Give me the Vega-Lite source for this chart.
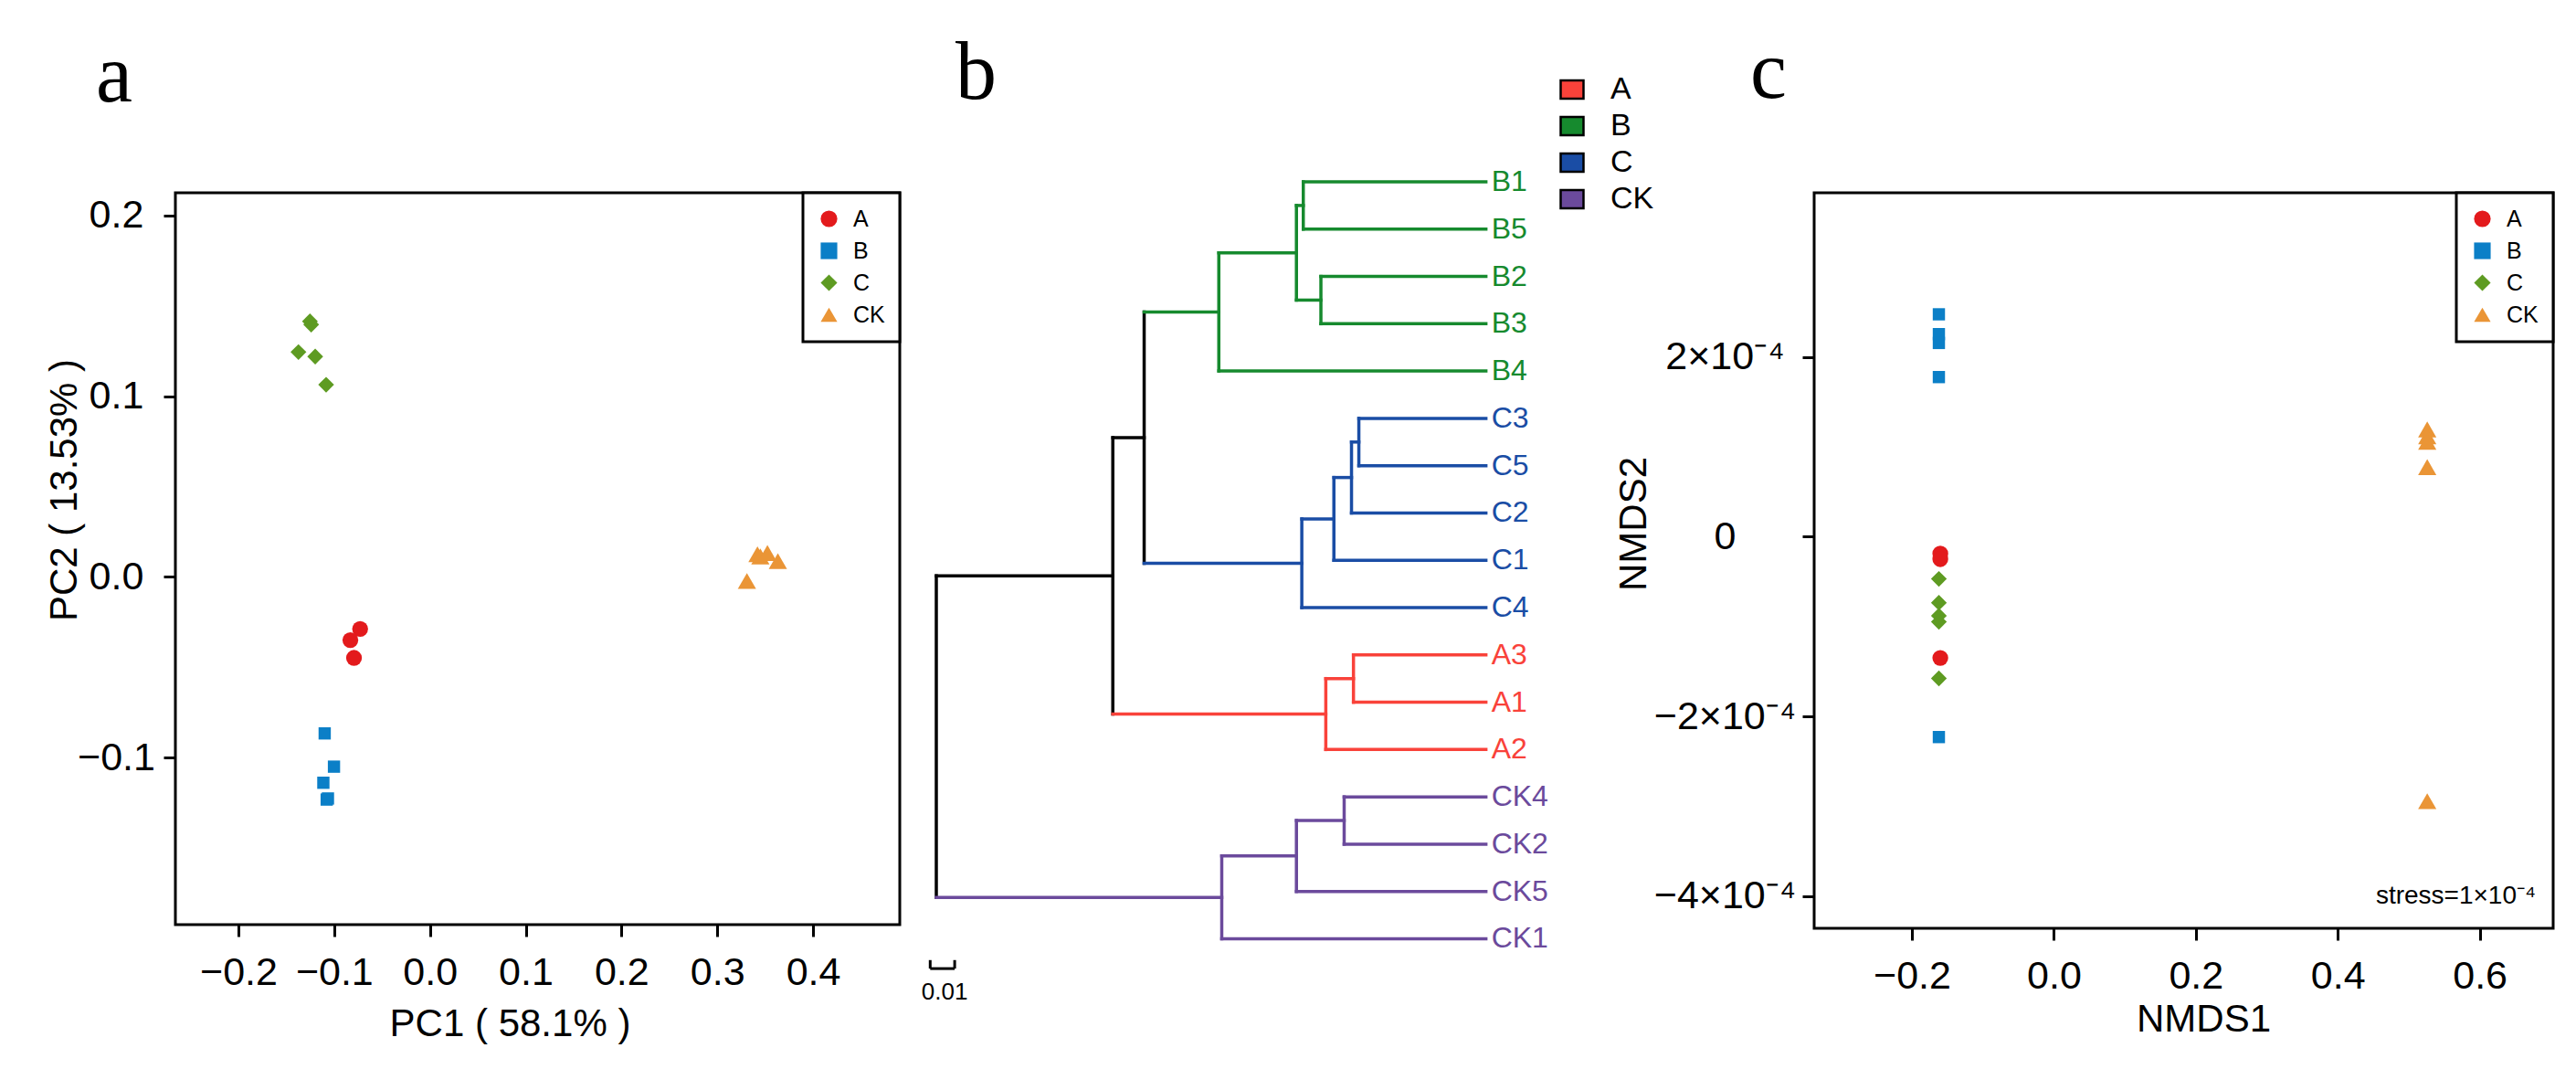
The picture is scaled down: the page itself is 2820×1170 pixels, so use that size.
{
  "$schema": "https://vega.github.io/schema/vega-lite/v6.json",
  "background": "white",
  "autosize": {"type": "none"},
  "padding": {"left": 192, "top": 211, "right": 2628, "bottom": 959},
  "spacing": 40,
  "bounds": "flush",
  "datasets": {
    "pca": [
      {"group": "A", "pc1": -0.0729, "pc2": -0.0288},
      {"group": "A", "pc1": -0.0831, "pc2": -0.0350},
      {"group": "A", "pc1": -0.0793, "pc2": -0.0448},
      {"group": "B", "pc1": -0.1099, "pc2": -0.0866},
      {"group": "B", "pc1": -0.1002, "pc2": -0.1050},
      {"group": "B", "pc1": -0.1113, "pc2": -0.1139},
      {"group": "B", "pc1": -0.1078, "pc2": -0.1232},
      {"group": "B", "pc1": -0.1065, "pc2": -0.1226},
      {"group": "C", "pc1": -0.1253, "pc2": 0.1414},
      {"group": "C", "pc1": -0.1240, "pc2": 0.1396},
      {"group": "C", "pc1": -0.1373, "pc2": 0.1244},
      {"group": "C", "pc1": -0.1198, "pc2": 0.1219},
      {"group": "C", "pc1": -0.1084, "pc2": 0.1063},
      {"group": "CK", "pc1": 0.3310, "pc2": -0.0023},
      {"group": "CK", "pc1": 0.3420, "pc2": 0.0125},
      {"group": "CK", "pc1": 0.3450, "pc2": 0.0113},
      {"group": "CK", "pc1": 0.3524, "pc2": 0.0132},
      {"group": "CK", "pc1": 0.3633, "pc2": 0.0087}
    ],
    "nmds": [
      {"group": "A", "nmds1": -0.160, "nmds2": -0.0000188},
      {"group": "A", "nmds1": -0.160, "nmds2": -0.0000249},
      {"group": "A", "nmds1": -0.160, "nmds2": -0.0001349},
      {"group": "B", "nmds1": -0.162, "nmds2": 0.0002477},
      {"group": "B", "nmds1": -0.162, "nmds2": 0.0002256},
      {"group": "B", "nmds1": -0.162, "nmds2": 0.0002158},
      {"group": "B", "nmds1": -0.162, "nmds2": 0.0001778},
      {"group": "B", "nmds1": -0.162, "nmds2": -0.0002230},
      {"group": "C", "nmds1": -0.162, "nmds2": -0.0000469},
      {"group": "C", "nmds1": -0.162, "nmds2": -0.0000734},
      {"group": "C", "nmds1": -0.162, "nmds2": -0.0000879},
      {"group": "C", "nmds1": -0.162, "nmds2": -0.0000947},
      {"group": "C", "nmds1": -0.162, "nmds2": -0.0001577},
      {"group": "CK", "nmds1": 0.526, "nmds2": 0.0001195},
      {"group": "CK", "nmds1": 0.526, "nmds2": 0.0001118},
      {"group": "CK", "nmds1": 0.526, "nmds2": 0.0001057},
      {"group": "CK", "nmds1": 0.526, "nmds2": 0.0000776},
      {"group": "CK", "nmds1": 0.526, "nmds2": -0.0002944}
    ],
    "tree": [
      {"grp": "none", "x": 0, "x2": 0.0721, "y": 9.328, "y2": 9.328},
      {"grp": "none", "x": 0.0721, "x2": 0.0849, "y": 6.406, "y2": 6.406},
      {"grp": "none", "x": 0, "x2": 0, "y": 9.328, "y2": 16.125},
      {"grp": "none", "x": 0.0721, "x2": 0.0721, "y": 6.406, "y2": 12.25},
      {"grp": "none", "x": 0.0849, "x2": 0.0849, "y": 3.75, "y2": 9.0625},
      {"grp": "A", "x": 0.0721, "x2": 0.1591, "y": 12.25, "y2": 12.25},
      {"grp": "A", "x": 0.1591, "x2": 0.1591, "y": 11.5, "y2": 13},
      {"grp": "A", "x": 0.1591, "x2": 0.1704, "y": 11.5, "y2": 11.5},
      {"grp": "A", "x": 0.1591, "x2": 0.2245, "y": 13, "y2": 13},
      {"grp": "A", "x": 0.1704, "x2": 0.1704, "y": 11, "y2": 12},
      {"grp": "A", "x": 0.1704, "x2": 0.2245, "y": 11, "y2": 11},
      {"grp": "A", "x": 0.1704, "x2": 0.2245, "y": 12, "y2": 12},
      {"grp": "B", "x": 0.0849, "x2": 0.1154, "y": 3.75, "y2": 3.75},
      {"grp": "B", "x": 0.1154, "x2": 0.1154, "y": 2.5, "y2": 5},
      {"grp": "B", "x": 0.1154, "x2": 0.1471, "y": 2.5, "y2": 2.5},
      {"grp": "B", "x": 0.1154, "x2": 0.2245, "y": 5, "y2": 5},
      {"grp": "B", "x": 0.1471, "x2": 0.1471, "y": 1.5, "y2": 3.5},
      {"grp": "B", "x": 0.1471, "x2": 0.1499, "y": 1.5, "y2": 1.5},
      {"grp": "B", "x": 0.1471, "x2": 0.1571, "y": 3.5, "y2": 3.5},
      {"grp": "B", "x": 0.1499, "x2": 0.1499, "y": 1, "y2": 2},
      {"grp": "B", "x": 0.1499, "x2": 0.2245, "y": 1, "y2": 1},
      {"grp": "B", "x": 0.1499, "x2": 0.2245, "y": 2, "y2": 2},
      {"grp": "B", "x": 0.1571, "x2": 0.1571, "y": 3, "y2": 4},
      {"grp": "B", "x": 0.1571, "x2": 0.2245, "y": 3, "y2": 3},
      {"grp": "B", "x": 0.1571, "x2": 0.2245, "y": 4, "y2": 4},
      {"grp": "C", "x": 0.0849, "x2": 0.1493, "y": 9.0625, "y2": 9.0625},
      {"grp": "C", "x": 0.1493, "x2": 0.1493, "y": 8.125, "y2": 10},
      {"grp": "C", "x": 0.1493, "x2": 0.1624, "y": 8.125, "y2": 8.125},
      {"grp": "C", "x": 0.1493, "x2": 0.2245, "y": 10, "y2": 10},
      {"grp": "C", "x": 0.1624, "x2": 0.1624, "y": 7.25, "y2": 9},
      {"grp": "C", "x": 0.1624, "x2": 0.1696, "y": 7.25, "y2": 7.25},
      {"grp": "C", "x": 0.1624, "x2": 0.2245, "y": 9, "y2": 9},
      {"grp": "C", "x": 0.1696, "x2": 0.1696, "y": 6.5, "y2": 8},
      {"grp": "C", "x": 0.1696, "x2": 0.1726, "y": 6.5, "y2": 6.5},
      {"grp": "C", "x": 0.1696, "x2": 0.2245, "y": 8, "y2": 8},
      {"grp": "C", "x": 0.1726, "x2": 0.1726, "y": 6, "y2": 7},
      {"grp": "C", "x": 0.1726, "x2": 0.2245, "y": 6, "y2": 6},
      {"grp": "C", "x": 0.1726, "x2": 0.2245, "y": 7, "y2": 7},
      {"grp": "CK", "x": 0, "x2": 0.1166, "y": 16.125, "y2": 16.125},
      {"grp": "CK", "x": 0.1166, "x2": 0.1166, "y": 15.25, "y2": 17},
      {"grp": "CK", "x": 0.1166, "x2": 0.1471, "y": 15.25, "y2": 15.25},
      {"grp": "CK", "x": 0.1166, "x2": 0.2245, "y": 17, "y2": 17},
      {"grp": "CK", "x": 0.1471, "x2": 0.1471, "y": 14.5, "y2": 16},
      {"grp": "CK", "x": 0.1471, "x2": 0.1666, "y": 14.5, "y2": 14.5},
      {"grp": "CK", "x": 0.1471, "x2": 0.2245, "y": 16, "y2": 16},
      {"grp": "CK", "x": 0.1666, "x2": 0.1666, "y": 14, "y2": 15},
      {"grp": "CK", "x": 0.1666, "x2": 0.2245, "y": 14, "y2": 14},
      {"grp": "CK", "x": 0.1666, "x2": 0.2245, "y": 15, "y2": 15}
    ],
    "leaves": [
      {"name": "B1", "grp": "B", "pos": 1},
      {"name": "B5", "grp": "B", "pos": 2},
      {"name": "B2", "grp": "B", "pos": 3},
      {"name": "B3", "grp": "B", "pos": 4},
      {"name": "B4", "grp": "B", "pos": 5},
      {"name": "C3", "grp": "C", "pos": 6},
      {"name": "C5", "grp": "C", "pos": 7},
      {"name": "C2", "grp": "C", "pos": 8},
      {"name": "C1", "grp": "C", "pos": 9},
      {"name": "C4", "grp": "C", "pos": 10},
      {"name": "A3", "grp": "A", "pos": 11},
      {"name": "A1", "grp": "A", "pos": 12},
      {"name": "A2", "grp": "A", "pos": 13},
      {"name": "CK4", "grp": "CK", "pos": 14},
      {"name": "CK2", "grp": "CK", "pos": 15},
      {"name": "CK5", "grp": "CK", "pos": 16},
      {"name": "CK1", "grp": "CK", "pos": 17}
    ]
  },
  "config": {
    "font": "Liberation Sans",
    "axis": {
      "domain": false, "grid": false, "ticks": true,
      "tickColor": "black", "tickWidth": 3, "tickSize": 13,
      "labelFont": "Liberation Sans", "labelFontSize": 43, "labelColor": "black",
      "titleFont": "Liberation Sans", "titleFontSize": 42, "titleFontWeight": "normal", "titleColor": "black",
      "labelFlush": false, "labelOverlap": false, "labelBound": false
    },
    "axisX": {"labelPadding": 18},
    "axisY": {"labelAlign": "center", "labelBaseline": "middle"},
    "legend": {"strokeWidth": 3},
    "title": {"font": "Liberation Serif", "fontSize": 90, "fontWeight": "normal", "anchor": "start", "frame": "group", "baseline": "alphabetic", "color": "black"}
  },
  "resolve": {
    "scale": {"x": "independent", "y": "independent", "color": "independent", "shape": "independent", "size": "independent", "stroke": "independent"}
  },
  "hconcat": [
    {
      "width": 793,
      "height": 801,
      "view": {"stroke": "black", "strokeWidth": 3},
      "title": {"text": "a", "dx": -87, "offset": 80},
      "data": {"name": "pca"},
      "mark": {"type": "point", "filled": true, "opacity": 1},
      "encoding": {
        "x": {
          "field": "pc1", "type": "quantitative",
          "scale": {"domain": [-0.2658, 0.4906], "nice": false, "zero": false},
          "axis": {"values": [-0.2, -0.1, 0, 0.1, 0.2, 0.3, 0.4], "format": ".1f", "title": "PC1 ( 58.1% )", "titleX": 366, "titleY": 121, "titleBaseline": "alphabetic"}
        },
        "y": {
          "field": "pc2", "type": "quantitative",
          "scale": {"domain": [-0.1924, 0.2125], "nice": false, "zero": false},
          "axis": {"values": [-0.1, 0, 0.1, 0.2], "format": ".1f", "title": "PC2 ( 13.53% )", "labelPadding": 52, "titleX": -109, "titleY": 325, "titleBaseline": "alphabetic"}
        },
        "color": {
          "field": "group", "type": "nominal",
          "scale": {"domain": ["A", "B", "C", "CK"], "range": ["#E31A1C", "#0B7FC7", "#5E9B22", "#EA9536"]},
          "legend": {"title": null, "orient": "top-right", "offset": 0, "padding": 16, "strokeColor": "black", "fillColor": "white", "labelFontSize": 25, "labelColor": "black", "symbolSize": 330, "labelOffset": 14, "rowPadding": 9, "symbolStrokeWidth": 0}
        },
        "shape": {
          "field": "group", "type": "nominal",
          "scale": {"domain": ["A", "B", "C", "CK"], "range": ["circle", "square", "diamond", "triangle-up"]},
          "legend": {"title": null, "orient": "top-right", "offset": 0, "padding": 16, "strokeColor": "black", "fillColor": "white", "labelFontSize": 25, "labelColor": "black", "symbolSize": 330, "labelOffset": 14, "rowPadding": 9, "symbolStrokeWidth": 0}
        },
        "size": {
          "field": "group", "type": "nominal",
          "scale": {"type": "ordinal", "domain": ["A", "B", "C", "CK", "-"], "range": [300, 180, 300, 400, 100]},
          "legend": null
        }
      }
    },
    {
      "width": 921,
      "height": 801,
      "view": {"stroke": null},
      "title": {"text": "b", "dx": 21, "offset": -46},
      "layer": [
        {
          "data": {"name": "tree"},
          "mark": {"type": "rule", "strokeWidth": 3.5, "strokeCap": "square"},
          "encoding": {
            "x": {"field": "x", "type": "quantitative", "scale": {"domain": [0, 0.34366], "nice": false, "zero": false}, "axis": null},
            "x2": {"field": "x2"},
            "y": {"field": "y", "type": "quantitative", "scale": {"domain": [1.2317, 16.701], "reverse": true, "nice": false, "zero": false}, "axis": null},
            "y2": {"field": "y2"},
            "stroke": {
              "field": "grp", "type": "nominal",
              "scale": {"domain": ["A", "B", "C", "CK", "none"], "range": ["#F9423A", "#168A2E", "#1A4DA5", "#6B4A9C", "black"]},
              "legend": null
            }
          }
        },
        {
          "data": {"name": "leaves"},
          "mark": {"type": "text", "align": "left", "baseline": "middle", "dx": 6, "fontSize": 32, "font": "Liberation Sans"},
          "encoding": {
            "x": {"datum": 0.2245},
            "y": {"field": "pos", "type": "quantitative"},
            "text": {"field": "name"},
            "color": {
              "field": "grp", "type": "nominal",
              "scale": {"domain": ["A", "B", "C", "CK"], "range": ["#F9423A", "#168A2E", "#1A4DA5", "#6B4A9C"]},
              "legend": {"title": null, "orient": "none", "legendX": 679, "legendY": -130, "padding": 0, "symbolType": "M-1,-0.8H1V0.8H-1Z", "symbolSize": 625, "symbolStrokeColor": "black", "symbolStrokeWidth": 2.5, "symbolOpacity": 1, "labelFontSize": 34, "labelColor": "black", "labelOffset": 25, "rowPadding": 6}
            }
          }
        },
        {
          "data": {"values": [{}]},
          "mark": {"type": "rule", "color": "black", "strokeWidth": 3},
          "encoding": {"x": {"datum": -0.0025}, "x2": {"datum": 0.0075}, "y": {"datum": 17.63}}
        },
        {
          "data": {"values": [{}]},
          "mark": {"type": "rule", "color": "black", "strokeWidth": 3},
          "encoding": {"x": {"datum": -0.0025}, "y": {"datum": 17.45}, "y2": {"datum": 17.63}}
        },
        {
          "data": {"values": [{}]},
          "mark": {"type": "rule", "color": "black", "strokeWidth": 3},
          "encoding": {"x": {"datum": 0.0075}, "y": {"datum": 17.45}, "y2": {"datum": 17.63}}
        },
        {
          "data": {"values": [{}]},
          "mark": {"type": "text", "align": "center", "baseline": "middle", "fontSize": 26, "font": "Liberation Sans", "color": "black"},
          "encoding": {"x": {"datum": 0.0034}, "y": {"datum": 18.13}, "text": {"value": "0.01"}}
        }
      ]
    },
    {
      "width": 809,
      "height": 805,
      "view": {"stroke": "black", "strokeWidth": 3},
      "title": {"text": "c", "dx": -70, "offset": 84},
      "layer": [
        {
          "data": {"name": "nmds"},
          "mark": {"type": "point", "filled": true, "opacity": 1},
          "encoding": {
            "x": {
              "field": "nmds1", "type": "quantitative",
              "scale": {"domain": [-0.3377, 0.7034], "nice": false, "zero": false},
              "axis": {"values": [-0.2, 0, 0.2, 0.4, 0.6], "format": ".1f", "title": "NMDS1", "titleX": 426, "titleY": 112, "titleBaseline": "alphabetic"}
            },
            "y": {
              "field": "nmds2", "type": "quantitative",
              "scale": {"domain": [-0.0004359, 0.000383], "nice": false, "zero": false},
              "axis": {"values": [-0.0004, -0.0002, 0, 0.0002], "labelExpr": "datum.value === 0 ? '0' : (datum.value < 0 ? '\u2212' : '') + format(abs(datum.value) * 10000, 'd') + '\u00d710\u207b\u2074'", "title": "NMDS2", "labelPadding": 85, "titleX": -185, "titleY": 362, "titleBaseline": "alphabetic"}
            },
            "color": {
              "field": "group", "type": "nominal",
              "scale": {"domain": ["A", "B", "C", "CK"], "range": ["#E31A1C", "#0B7FC7", "#5E9B22", "#EA9536"]},
              "legend": {"title": null, "orient": "top-right", "offset": 0, "padding": 16, "strokeColor": "black", "fillColor": "white", "labelFontSize": 25, "labelColor": "black", "symbolSize": 330, "labelOffset": 14, "rowPadding": 9, "symbolStrokeWidth": 0}
            },
            "shape": {
              "field": "group", "type": "nominal",
              "scale": {"domain": ["A", "B", "C", "CK"], "range": ["circle", "square", "diamond", "triangle-up"]},
              "legend": {"title": null, "orient": "top-right", "offset": 0, "padding": 16, "strokeColor": "black", "fillColor": "white", "labelFontSize": 25, "labelColor": "black", "symbolSize": 330, "labelOffset": 14, "rowPadding": 9, "symbolStrokeWidth": 0}
            },
            "size": {
              "field": "group", "type": "nominal",
              "scale": {"type": "ordinal", "domain": ["A", "B", "C", "CK", "-"], "range": [300, 180, 300, 400, 100]},
              "legend": null
            }
          }
        },
        {
          "data": {"values": [{}]},
          "mark": {"type": "text", "align": "right", "baseline": "middle", "fontSize": 28, "font": "Liberation Sans", "color": "black"},
          "encoding": {"x": {"datum": 0.679}, "y": {"datum": -0.0004}, "text": {"value": "stress=1\u00d710\u207b\u2074"}}
        }
      ]
    }
  ]
}
